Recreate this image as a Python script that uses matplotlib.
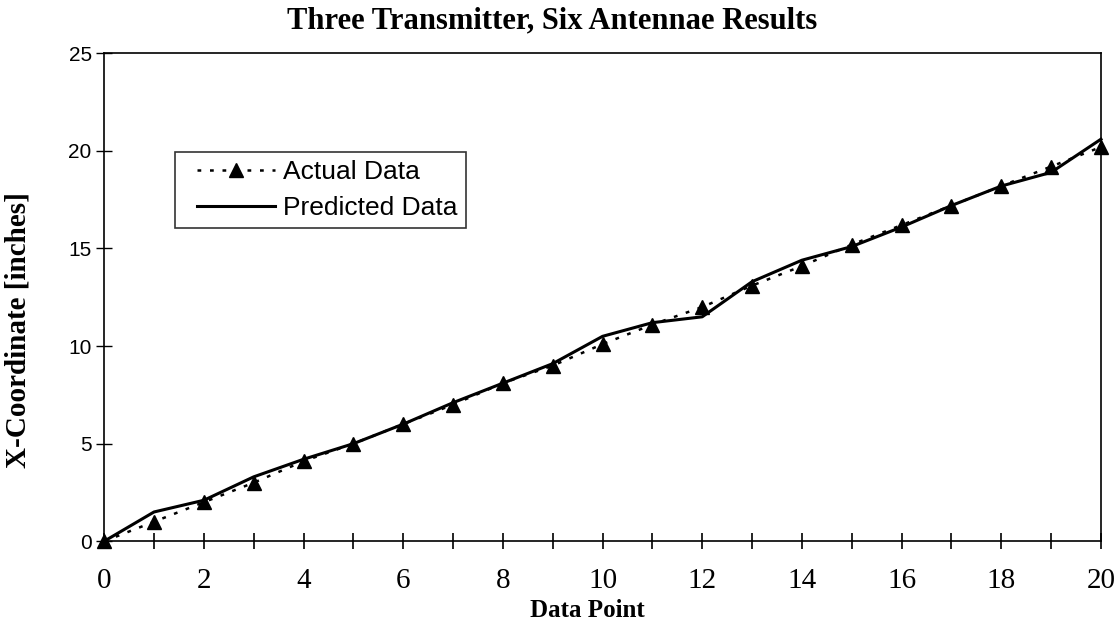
import matplotlib
matplotlib.use("Agg")
import matplotlib.pyplot as plt
from matplotlib.ticker import MultipleLocator
from matplotlib.legend_handler import HandlerLine2D

data_points = list(range(21))
actual = [0.0, 1.0, 2.0, 3.0, 4.1, 5.0, 6.0, 7.0, 8.1, 9.0, 10.1, 11.1, 12.0,
          13.1, 14.1, 15.2, 16.2, 17.2, 18.2, 19.2, 20.2]
predicted = [0.0, 1.5, 2.1, 3.3, 4.2, 5.0, 6.0, 7.1, 8.1, 9.1, 10.5, 11.2, 11.5,
             13.3, 14.4, 15.1, 16.1, 17.2, 18.2, 18.9, 20.6]

title = "Three Transmitter, Six Antennae Results"
xlabel = "Data Point"
ylabel = "X-Coordinate [inches]"

serif = ["Liberation Serif", "DejaVu Serif"]
sans = ["Liberation Sans", "DejaVu Sans"]

fig = plt.figure(figsize=(11.2, 6.2), dpi=100)
ax = fig.add_axes([0.093, 0.127, 0.890, 0.787])

l1, = ax.plot(data_points, actual, linestyle=(0, (1.5, 3.5)), color="black",
              lw=1.8, marker="^", markersize=10, label="Actual Data",
              clip_on=False, zorder=3)
l2, = ax.plot(data_points, predicted, linestyle="-", color="black", lw=2.2,
              label="Predicted Data", clip_on=False, zorder=4)

ax.set_xlim(0, 20)
ax.set_ylim(0, 25)
ax.xaxis.set_major_locator(MultipleLocator(2))
ax.xaxis.set_minor_locator(MultipleLocator(1))
ax.yaxis.set_major_locator(MultipleLocator(5))

ax.tick_params(axis="x", which="both", direction="inout", length=12, width=1.2,
               pad=13, labelsize=21, labelfontfamily=serif)
ax.tick_params(axis="y", which="major", direction="inout", length=12, width=1.0,
               pad=3, labelsize=15, labelfontfamily=sans)

for sp in ax.spines.values():
    sp.set_linewidth(1.2)

fig.text(0.493, 0.967, title, family=serif, fontweight="bold", fontsize=22,
         ha="center", va="center")
ax.set_xlabel(xlabel, family=serif, fontweight="bold", fontsize=18)
ax.xaxis.set_label_coords(0.485, -0.118)
ax.set_ylabel(ylabel, family=serif, fontweight="bold", fontsize=21)
ax.yaxis.label.set_va("center")
ax.yaxis.set_label_coords(-0.086, 0.432)

hmap = {l1: HandlerLine2D(xpad=0.55), l2: HandlerLine2D(xpad=0.55)}
leg = ax.legend(handles=[l1, l2], handler_map=hmap, loc="upper left",
                bbox_to_anchor=(0.071, 0.797),
                prop={"family": sans, "size": 19}, frameon=True, fancybox=False,
                edgecolor="black", handlelength=3.5, handletextpad=0.3,
                borderpad=0.3, labelspacing=0.45, borderaxespad=0)
leg.get_frame().set_linewidth(1.2)

fig.savefig("out.png", dpi=100, facecolor="white")
